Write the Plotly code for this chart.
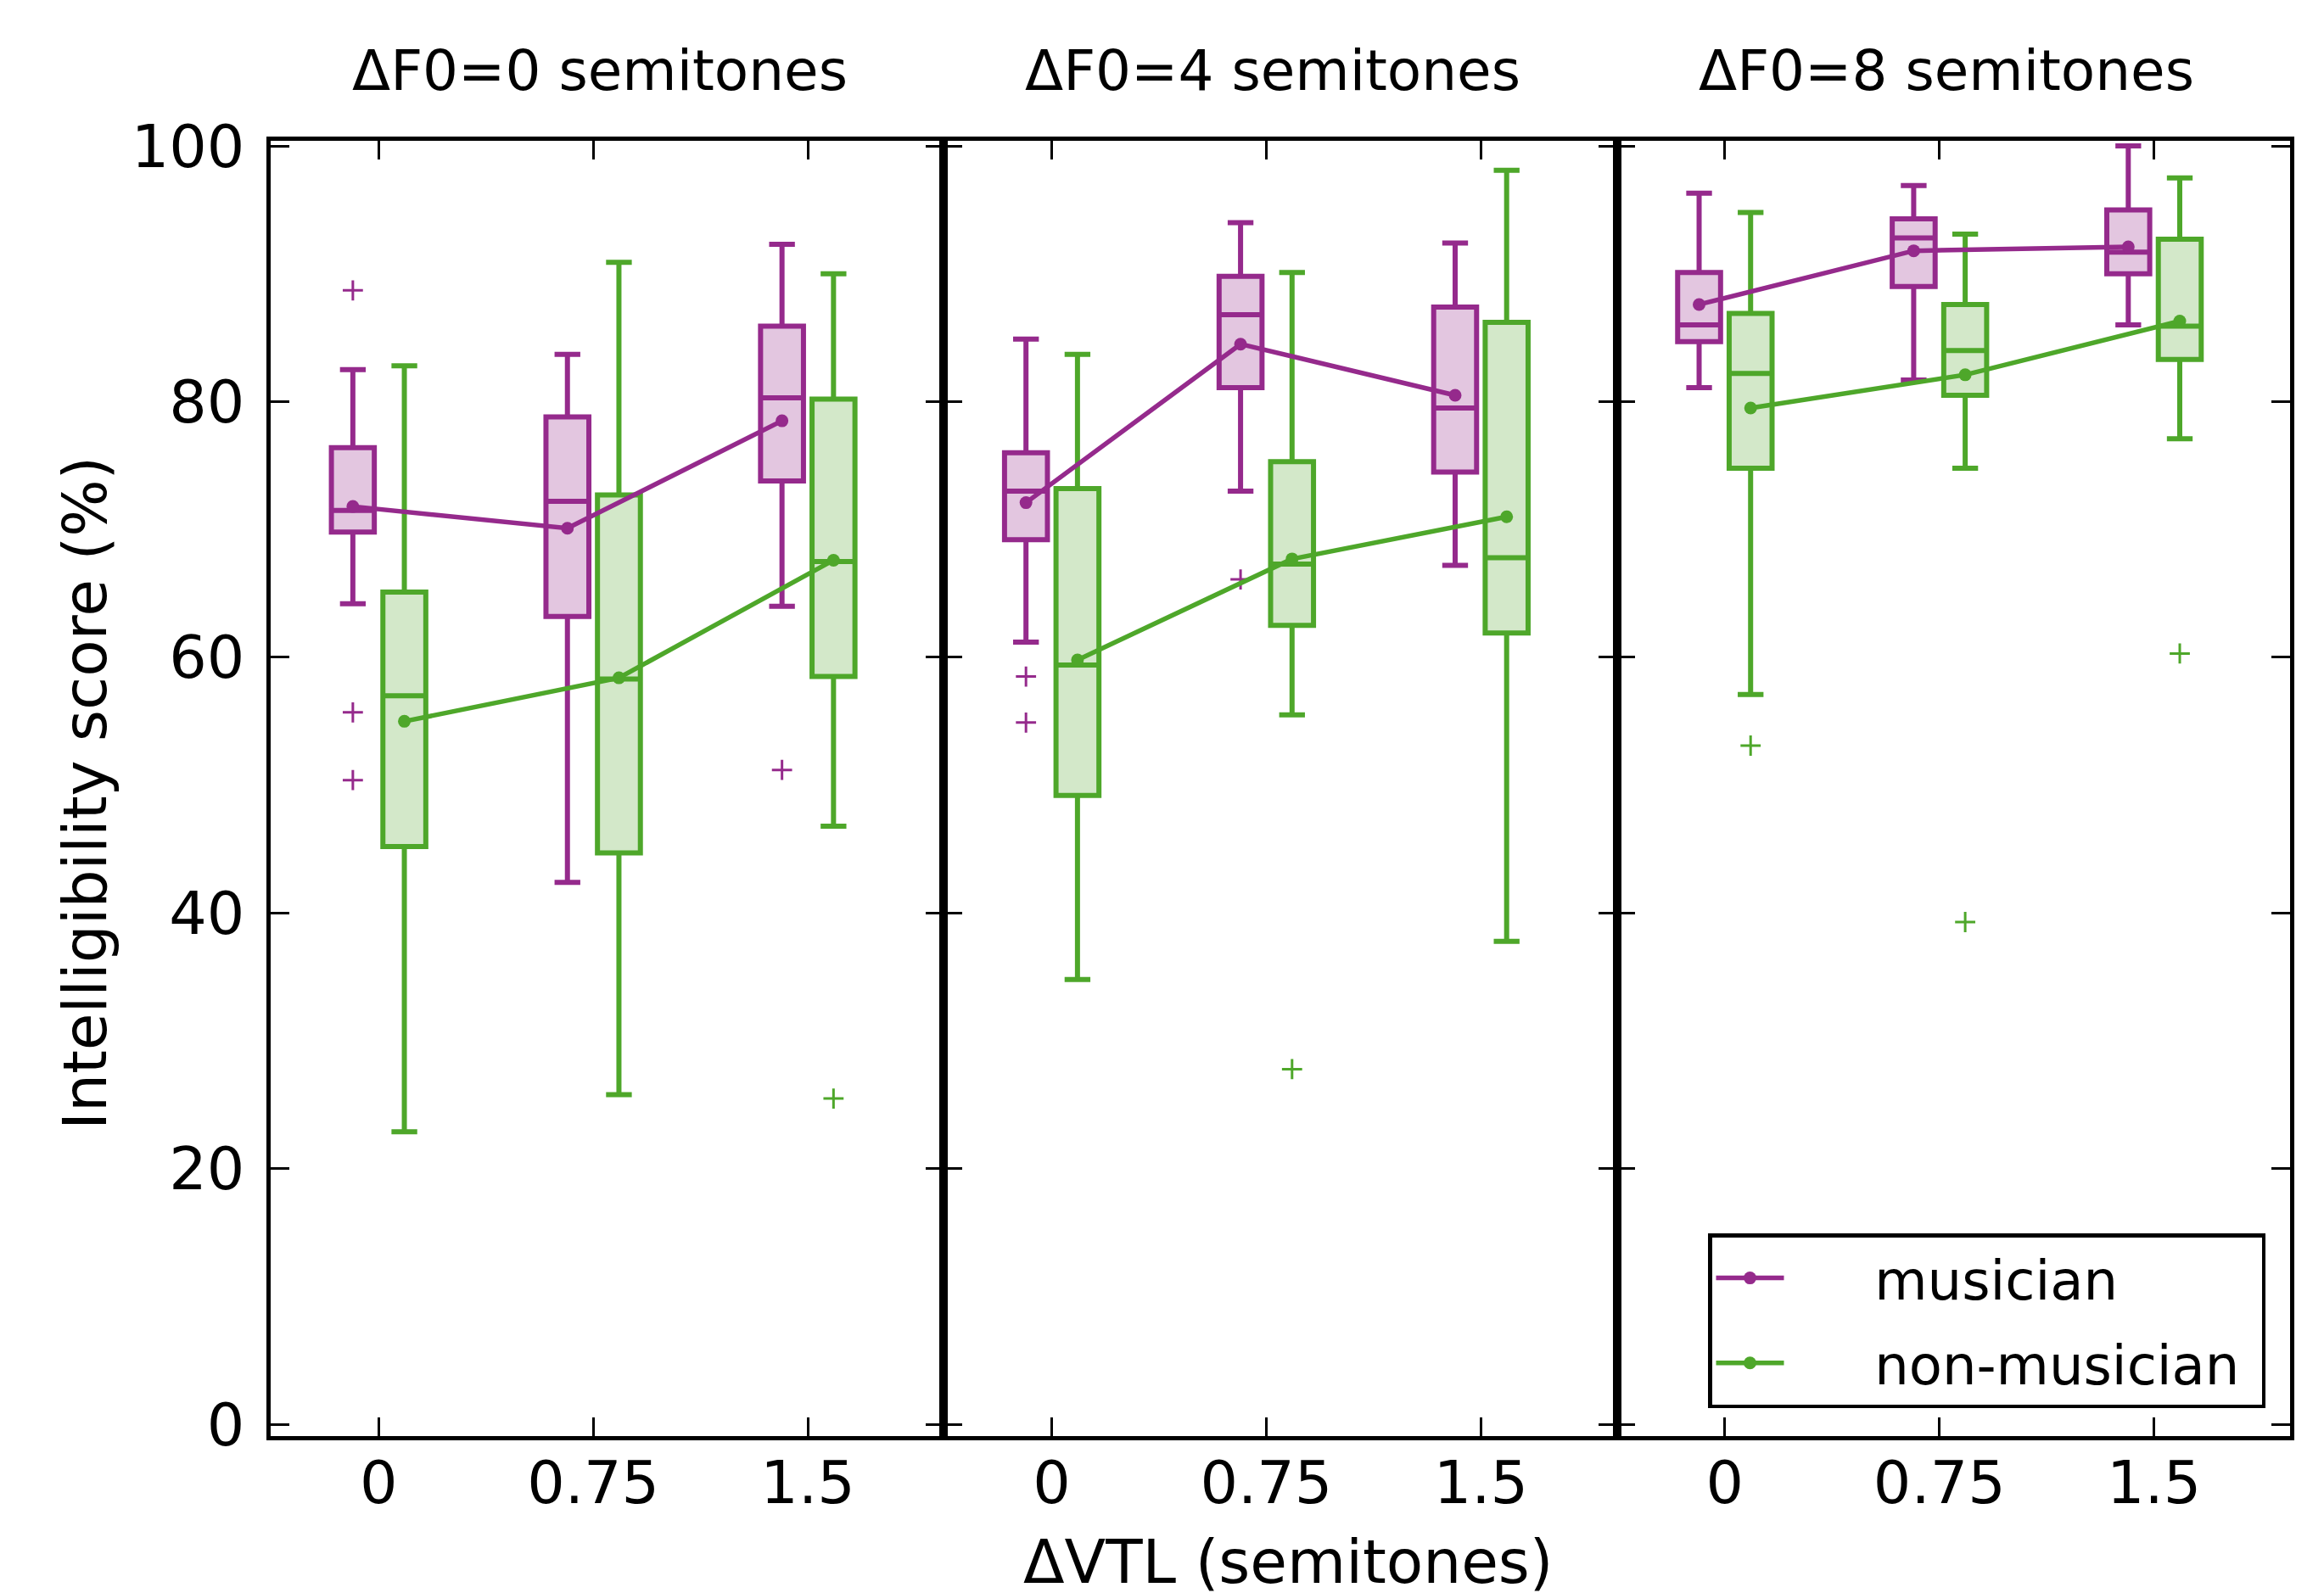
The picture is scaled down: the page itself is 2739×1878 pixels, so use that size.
import plotly.graph_objects as go
from plotly.subplots import make_subplots

# ---------------- data ----------------
panel_titles = ["ΔF0=0 semitones", "ΔF0=4 semitones", "ΔF0=8 semitones"]
vtl_labels = ["0", "0.75", "1.5"]
vtl_index = [0, 1, 2]
groups = ["musician", "non-musician"]

# box statistics per panel -> per VTL condition
mus_upper = [[82.5, 83.7, 92.3], [84.9, 94.0, 92.4], [96.3, 96.9, 100.0]]
mus_q3 = [[76.4, 78.8, 85.9], [76.0, 89.8, 87.4], [90.1, 94.3, 95.0]]
mus_median = [[71.5, 72.2, 80.3], [73.0, 86.8, 79.5], [86.0, 92.8, 91.7]]
mus_q1 = [[69.8, 63.2, 73.8], [69.2, 81.1, 74.5], [84.7, 89.0, 90.0]]
mus_lower = [[64.2, 42.4, 64.0], [61.2, 73.0, 67.2], [81.1, 81.7, 86.0]]
mus_mean = [[71.8, 70.1, 78.5], [72.1, 84.5, 80.5], [87.6, 91.8, 92.1]]
mus_outliers = [
    [[88.7, 55.7, 50.4], [], [51.2]],
    [[58.5, 54.9], [66.1], []],
    [[], [], []],
]

non_upper = [[82.8, 90.9, 90.0], [83.7, 90.1, 98.1], [94.8, 93.1, 97.5]]
non_q3 = [[65.1, 72.7, 80.2], [73.2, 75.3, 86.2], [86.9, 87.6, 92.7]]
non_median = [[57.0, 58.3, 67.5], [59.4, 67.3, 67.8], [82.2, 84.0, 85.9]]
non_q1 = [[45.2, 44.7, 58.5], [49.2, 62.5, 61.9], [74.8, 80.5, 83.3]]
non_lower = [[22.9, 25.8, 46.8], [34.8, 55.5, 37.8], [57.1, 74.8, 77.1]]
non_mean = [[55.0, 58.4, 67.6], [59.8, 67.7, 71.0], [79.5, 82.1, 86.3]]
non_outliers = [
    [[], [], [25.5]],
    [[], [27.8], []],
    [[53.1], [39.3], [60.3]],
]

# ---------------- styles ----------------
FONT = "DejaVu Sans"
PURPLE = "#952a8c"
PURPLE_FILL = "#e3c6e0"
GREEN = "#4ea72a"
GREEN_FILL = "#d3e8c9"
OFFSET = 0.12
BOX_W = 0.2
NB = "\u00a0"

W, H = 2739, 1878
ML, MR, MT, MB = 311, 48, 158, 193

fig = make_subplots(rows=1, cols=3, shared_yaxes=True, horizontal_spacing=0)

series = [
    dict(name=groups[0], color=PURPLE, fill=PURPLE_FILL, off=-OFFSET,
         up=mus_upper, q3=mus_q3, med=mus_median, q1=mus_q1, lo=mus_lower,
         mean=mus_mean, out=mus_outliers),
    dict(name=groups[1], color=GREEN, fill=GREEN_FILL, off=OFFSET,
         up=non_upper, q3=non_q3, med=non_median, q1=non_q1, lo=non_lower,
         mean=non_mean, out=non_outliers),
]

for p in range(3):
    col = p + 1
    for s in series:
        xs = [v + s["off"] for v in vtl_index]
        fig.add_trace(go.Box(
            x=xs, q1=s["q1"][p], median=s["med"][p], q3=s["q3"][p],
            lowerfence=s["lo"][p], upperfence=s["up"][p],
            width=BOX_W, whiskerwidth=0.6, boxpoints=False,
            fillcolor=s["fill"], line=dict(color=s["color"], width=6),
            showlegend=False, hoverinfo="skip",
        ), row=1, col=col)
        # outliers
        ox, oy = [], []
        for i, vals in enumerate(s["out"][p]):
            for v in vals:
                ox.append(vtl_index[i] + s["off"])
                oy.append(v)
        if ox:
            fig.add_trace(go.Scatter(
                x=ox, y=oy, mode="markers",
                marker=dict(symbol="cross-thin", size=17,
                            line=dict(color=s["color"], width=3)),
                showlegend=False, hoverinfo="skip",
            ), row=1, col=col)
        # mean line
        fig.add_trace(go.Scatter(
            x=xs, y=s["mean"][p], mode="lines+markers",
            line=dict(color=s["color"], width=5.5),
            marker=dict(color=s["color"], size=15),
            name=NB * 5 + s["name"] + NB, showlegend=(p == 2),
            legendgroup=s["name"],
        ), row=1, col=col)

axis_common = dict(
    showline=True, linecolor="black", linewidth=4.5, mirror="allticks",
    ticks="inside", ticklen=22, tickwidth=2.5, tickcolor="black",
    showgrid=False, zeroline=False,
    tickfont=dict(family=FONT, size=70, color="black"),
)

for c in range(1, 4):
    fig.update_xaxes(
        range=[-0.503, 2.634], tickmode="array", tickvals=vtl_index,
        ticktext=vtl_labels, ticklabelstandoff=-10, row=1, col=c, **axis_common)
    fig.update_yaxes(
        range=[-0.9, 100.4], tickmode="array", tickvals=[0, 20, 40, 60, 80, 100],
        showticklabels=(c == 1), ticklabelstandoff=12, row=1, col=c, **axis_common)

plot_w = W - ML - MR
plot_h = H - MT - MB


def px_to_paper(fx, fy):
    return (fx - ML) / plot_w, 1 - (fy - MT) / plot_h


annotations = []
title_x = [699, 1492, 2286]
for t, xpx in zip(panel_titles, title_x):
    ax, ay = px_to_paper(xpx, 76)
    annotations.append(dict(
        text=t, x=ax, y=ay, xref="paper", yref="paper",
        xanchor="center", yanchor="middle", showarrow=False,
        font=dict(family=FONT, size=66, color="black")))
ax, ay = px_to_paper(1510, 1834)
annotations.append(dict(
    text="ΔVTL (semitones)", x=ax, y=ay, xref="paper",
    yref="paper", xanchor="center", yanchor="middle", showarrow=False,
    font=dict(family=FONT, size=71, color="black")))
ax, ay = px_to_paper(93, 927)
annotations.append(dict(
    text="Intelligibility score (%)", x=ax, y=ay, xref="paper",
    yref="paper", xanchor="center", yanchor="middle", showarrow=False,
    textangle=-90, font=dict(family=FONT, size=71, color="black")))

leg_x, leg_y = px_to_paper(2005, 1446)

fig.update_layout(
    width=W, height=H,
    margin=dict(l=ML, r=MR, t=MT, b=MB),
    paper_bgcolor="white", plot_bgcolor="white",
    boxmode="overlay",
    font=dict(family=FONT, size=66, color="black"),
    annotations=annotations,
    legend=dict(
        x=leg_x, y=leg_y, xanchor="left", yanchor="top",
        bordercolor="black", borderwidth=4.5, bgcolor="white",
        font=dict(family=FONT, size=64, color="black"),
        itemwidth=80, tracegroupgap=14,
    ),
)

fig.write_html("out.html")
